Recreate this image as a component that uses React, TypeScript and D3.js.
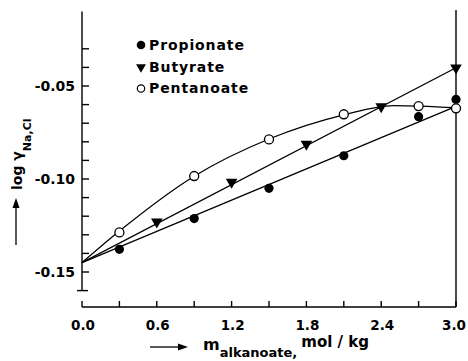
import * as d3 from "d3";

// values
const propionateX = [0.3, 0.9, 1.5, 2.1, 2.7, 3.0];
const propionateY = [-0.1378, -0.1213, -0.105, -0.0875, -0.0665, -0.0572];
const butyrateX = [0.6, 1.2, 1.8, 2.4, 3.0];
const butyrateY = [-0.123, -0.1016, -0.0812, -0.0611, -0.0402];
const pentanoateX = [0.3, 0.9, 1.5, 2.1, 2.7, 3.0];
const pentanoateY = [-0.1287, -0.0984, -0.0787, -0.0652, -0.0608, -0.062];

// drawn fit lines
const propionateFit: [number, number][] = [[0, -0.145], [3.0, -0.061]];
const butyrateFit: [number, number][] = [[0, -0.145], [3.0, -0.0402]];
const pentanoateFit: [number, number][] = [
  [0, -0.145], [0.3, -0.128], [0.9, -0.0985], [1.5, -0.0785],
  [2.1, -0.0655], [2.5, -0.0605], [3.0, -0.0617],
];

const xMinorTicks = [0, 0.3, 0.6, 0.9, 1.2, 1.5, 1.8, 2.1, 2.4, 2.7, 3.0];
const xTickValues = [0, 0.6, 1.2, 1.8, 2.4, 3.0];
const xTickLabels = ["0.0", "0.6", "1.2", "1.8", "2.4", "3.0"];
const yMinorTicks = [-0.15, -0.14, -0.13, -0.12, -0.11, -0.1, -0.09, -0.08, -0.07, -0.06, -0.05, -0.04, -0.03];
const yTickValues = [-0.05, -0.1, -0.15];
const yTickLabels = ["-0.05", "-0.10", "-0.15"];
const seriesNames = ["Propionate", "Butyrate", "Pentanoate"];

const font = "'DejaVu Sans', sans-serif";

export default function App() {
  const x = d3.scaleLinear().domain([0, 3]).range([82, 456]);
  const y = d3.scaleLinear().domain([-0.16, -0.01]).range([290.6, 11.6]);
  const xAxisY = 307;

  const line = d3.line<[number, number]>().x((d) => x(d[0])).y((d) => y(d[1]));
  const curve = d3
    .line<[number, number]>()
    .x((d) => x(d[0]))
    .y((d) => y(d[1]))
    .curve(d3.curveMonotoneX);

  const tri = d3.symbol().type(d3.symbolTriangle).size(58)();
  const triSmall = d3.symbol().type(d3.symbolTriangle).size(42)();

  return (
    <svg width={468} height={361} style={{ position: "absolute", left: 0, top: 0 }}>
      <rect width={468} height={361} fill="#fff" />
      <g stroke="#000" fill="none" strokeWidth={1.4}>
        {/* y axis */}
        <line x1={x(0)} x2={x(0)} y1={y(-0.01)} y2={y(-0.16)} />
        <line x1={x(0) - 5} x2={x(0) + 6} y1={y(-0.16)} y2={y(-0.16)} />
        {yMinorTicks.map((v) => (
          <line key={v} x1={x(0)} x2={x(0) + 7} y1={y(v)} y2={y(v)} />
        ))}
        {/* x axis */}
        <line x1={x(0)} x2={x(3)} y1={xAxisY} y2={xAxisY} />
        {xMinorTicks.map((v) => (
          <line key={v} x1={x(v)} x2={x(v)} y1={xAxisY} y2={xAxisY - 6} />
        ))}
        {/* right border */}
        <line x1={x(3)} x2={x(3)} y1={10} y2={xAxisY} />
      </g>

      <g fontFamily={font} fontWeight="bold" fill="#000">
        {yTickValues.map((v, i) => (
          <text key={v} x={75} y={y(v) + 5} textAnchor="end" fontSize={14}>
            {yTickLabels[i]}
          </text>
        ))}
        {xTickValues.map((v, i) => (
          <text key={v} x={Math.min(x(v) + 1, 454)} y={330} textAnchor="middle" fontSize={13.5}>
            {xTickLabels[i]}
          </text>
        ))}
      </g>

      {/* fit lines */}
      <g stroke="#000" fill="none" strokeWidth={1.3}>
        <path d={line(propionateFit) ?? ""} />
        <path d={line(butyrateFit) ?? ""} />
        <path d={curve(pentanoateFit) ?? ""} />
      </g>

      {/* points */}
      <g>
        {propionateX.map((v, i) => (
          <circle key={"p" + i} cx={x(v)} cy={y(propionateY[i])} r={4.6} fill="#000" />
        ))}
        {butyrateX.map((v, i) => (
          <path
            key={"b" + i}
            d={tri ?? ""}
            transform={`translate(${x(v)},${y(butyrateY[i])}) rotate(180)`}
            fill="#000"
          />
        ))}
        {pentanoateX.map((v, i) => (
          <circle
            key={"n" + i}
            cx={x(v)}
            cy={y(pentanoateY[i])}
            r={4.5}
            fill="#fff"
            stroke="#000"
            strokeWidth={1.3}
          />
        ))}
      </g>

      {/* legend */}
      <g fontFamily={font} fontWeight="bold" fontSize={14} letterSpacing={0.9}>
        <circle cx={141} cy={45} r={4.3} fill="#000" />
        <path d={triSmall ?? ""} transform="translate(141,67) rotate(180)" fill="#000" />
        <circle cx={141} cy={88.5} r={3.7} fill="#fff" stroke="#000" strokeWidth={1.2} />
        {seriesNames.map((s, i) => (
          <text key={s} x={149} y={50 + i * 21.7}>
            {s}
          </text>
        ))}
      </g>

      {/* y title */}
      <g fontFamily={font} fontWeight="bold" fill="#000">
        <text transform="translate(22,190) rotate(-90)" fontSize={14}>
          log γ
          <tspan fontSize={11} dy={9}>Na,Cl</tspan>
        </text>
        <line x1={16} x2={16} y1={245} y2={205} stroke="#000" strokeWidth={1.3} />
        <path d="M16,198 L12.5,208 L19.5,208 Z" fill="#000" />
      </g>

      {/* x title */}
      <g fontFamily={font} fontWeight="bold" fill="#000">
        <line x1={150} x2={180} y1={347} y2={347} stroke="#000" strokeWidth={1.3} />
        <path d="M188,347 L178,343.5 L178,350.5 Z" fill="#000" />
        <text x={203} y={350} fontSize={16}>
          m
          <tspan fontSize={13} dy={7}>alkanoate,</tspan>
          <tspan fontSize={15} dx={4} dy={-10}>mol / kg</tspan>
        </text>
      </g>
    </svg>
  );
}
